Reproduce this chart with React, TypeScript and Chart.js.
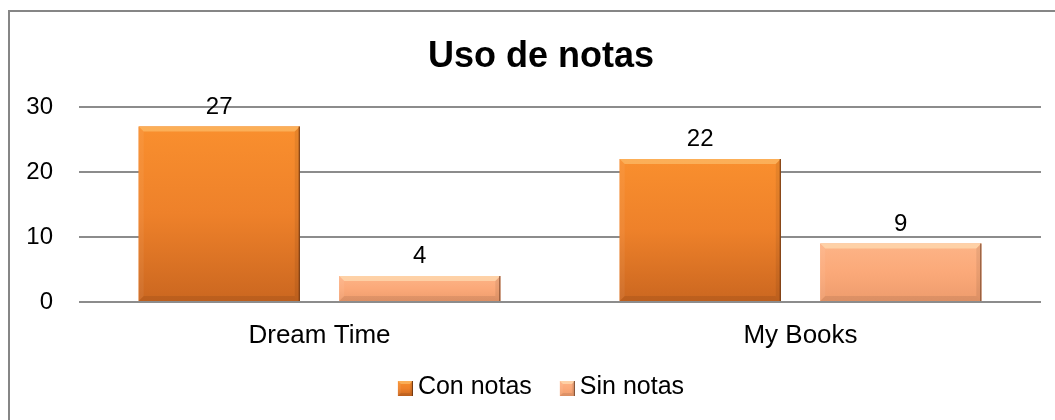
import React, { useEffect, useRef } from "react";
import { Chart, registerables } from "chart.js";

Chart.register(...registerables);

const categories = ["Dream Time", "My Books"];
const seriesNames = ["Con notas", "Sin notas"];
const conNotas = [27, 22];
const sinNotas = [4, 9];
const yMin = 0;
const yMax = 30;
const yStep = 10;
const titleText = "Uso de notas";

const FONT = "'Liberation Sans', Arial, sans-serif";

const palettes = [
  { top: "#F98F2E", mid: "#EE812A", bottom: "#CB6720", edge: "#6b3410", light: "rgba(255,215,140,0.45)" },
  { top: "#FDB487", mid: "#FBA979", bottom: "#EE9C6D", edge: "#7a4a30", light: "rgba(255,240,200,0.5)" },
];

function drawBevelBox(ctx: CanvasRenderingContext2D, left: number, top: number, right: number, bottom: number, p: any, bevel: number) {
  const h = bottom - top;
  const w = right - left;
  if (h <= 0 || w <= 0) return;
  const b = Math.min(bevel, h / 3, w / 3);
  const g = ctx.createLinearGradient(0, top, 0, bottom);
  g.addColorStop(0, p.top);
  g.addColorStop(0.5, p.mid);
  g.addColorStop(1, p.bottom);
  ctx.fillStyle = g;
  ctx.fillRect(left, top, w, h);
  ctx.fillStyle = p.light;
  ctx.beginPath();
  ctx.moveTo(left, top);
  ctx.lineTo(right, top);
  ctx.lineTo(right - b, top + b);
  ctx.lineTo(left + b, top + b);
  ctx.closePath();
  ctx.fill();
  ctx.fillStyle = "rgba(255,255,255,0.06)";
  ctx.beginPath();
  ctx.moveTo(left, top);
  ctx.lineTo(left + b, top + b);
  ctx.lineTo(left + b, bottom - b);
  ctx.lineTo(left, bottom);
  ctx.closePath();
  ctx.fill();
  ctx.fillStyle = "rgba(0,0,0,0.07)";
  ctx.beginPath();
  ctx.moveTo(right, top);
  ctx.lineTo(right - b, top + b);
  ctx.lineTo(right - b, bottom - b);
  ctx.lineTo(right, bottom);
  ctx.closePath();
  ctx.fill();
  ctx.fillStyle = "rgba(0,0,0,0.08)";
  ctx.beginPath();
  ctx.moveTo(left, bottom);
  ctx.lineTo(left + b, bottom - b);
  ctx.lineTo(right - b, bottom - b);
  ctx.lineTo(right, bottom);
  ctx.closePath();
  ctx.fill();
  ctx.fillStyle = p.edge;
  ctx.fillRect(right - 1, top, 1, h);
}

const decorPlugin = {
  id: "decor",
  beforeDraw(chart: any) {
    const ctx = chart.ctx;
    ctx.save();
    ctx.fillStyle = "#ffffff";
    ctx.fillRect(0, 0, chart.width, chart.height);
    ctx.strokeStyle = "#868686";
    ctx.lineWidth = 2;
    ctx.strokeRect(9, 11, chart.width + 20, chart.height + 20);
    ctx.restore();
  },
  afterDatasetsDraw(chart: any) {
    const ctx = chart.ctx;
    ctx.save();
    chart.data.datasets.forEach((ds: any, i: number) => {
      const meta = chart.getDatasetMeta(i);
      meta.data.forEach((el: any, j: number) => {
        const { x, y, base, width } = el.getProps(["x", "y", "base", "width"], true);
        drawBevelBox(ctx, x - width / 2, y, x + width / 2, base, palettes[i], 5);
        ctx.fillStyle = "#000";
        ctx.font = `24px ${FONT}`;
        ctx.textAlign = "center";
        ctx.textBaseline = "alphabetic";
        ctx.fillText(String(ds.data[j]), x, y - 13);
      });
    });
    ctx.restore();
  },
  afterDraw(chart: any) {
    const ctx = chart.ctx;
    const cx = 541;
    ctx.save();
    ctx.fillStyle = "#000";
    ctx.font = `bold 36px ${FONT}`;
    ctx.textAlign = "center";
    ctx.textBaseline = "alphabetic";
    ctx.fillText(titleText, cx, 67);
    ctx.font = `25px ${FONT}`;
    const box = 15;
    const gap = 5;
    const itemGap = 28;
    const widths = seriesNames.map((n) => ctx.measureText(n).width);
    const total = widths.reduce((a, w) => a + box + gap + w, 0) + itemGap * (seriesNames.length - 1);
    let x = cx - total / 2;
    const baseline = 394;
    seriesNames.forEach((name, i) => {
      drawBevelBox(ctx, x, baseline - 13, x + box, baseline + 2, palettes[i], 3);
      ctx.fillStyle = "#000";
      ctx.textAlign = "left";
      ctx.fillText(name, x + box + gap, baseline);
      x += box + gap + widths[i] + itemGap;
    });
    ctx.restore();
  },
};

export default function App() {
  const ref = useRef<HTMLCanvasElement | null>(null);
  useEffect(() => {
    if (!ref.current) return;
    const chart = new Chart(ref.current, {
      type: "bar",
      data: {
        labels: categories,
        datasets: [
          { label: seriesNames[0], data: conNotas, backgroundColor: palettes[0].mid, borderWidth: 0 },
          { label: seriesNames[1], data: sinNotas, backgroundColor: palettes[1].mid, borderWidth: 0 },
        ],
      },
      options: {
        responsive: false,
        animation: false,
        devicePixelRatio: 1,
        layout: { padding: { top: 107, right: 14, bottom: 0, left: 0 } },
        datasets: { bar: { categoryPercentage: 0.834, barPercentage: 0.803 } },
        plugins: {
          legend: { display: false },
          title: { display: false },
          tooltip: { enabled: false },
        },
        scales: {
          x: {
            grid: { display: false, drawTicks: false },
            border: { display: false },
            ticks: { font: { size: 26, family: FONT }, color: "#000", padding: 18 },
            afterFit: (s: any) => { s.height = 118; },
          },
          y: {
            min: yMin,
            max: yMax,
            grid: { color: "#8c8c8c", lineWidth: 2, drawTicks: false },
            border: { display: false },
            ticks: { stepSize: yStep, font: { size: 24, family: FONT }, color: "#000", padding: 26 },
            afterFit: (s: any) => { s.width = 79; },
          },
        },
      },
      plugins: [decorPlugin],
    });
    return () => chart.destroy();
  }, []);
  return (
    <canvas
      ref={ref}
      width={1055}
      height={420}
      style={{ position: "fixed", left: 0, top: 0, width: 1055, height: 420 }}
    />
  );
}
